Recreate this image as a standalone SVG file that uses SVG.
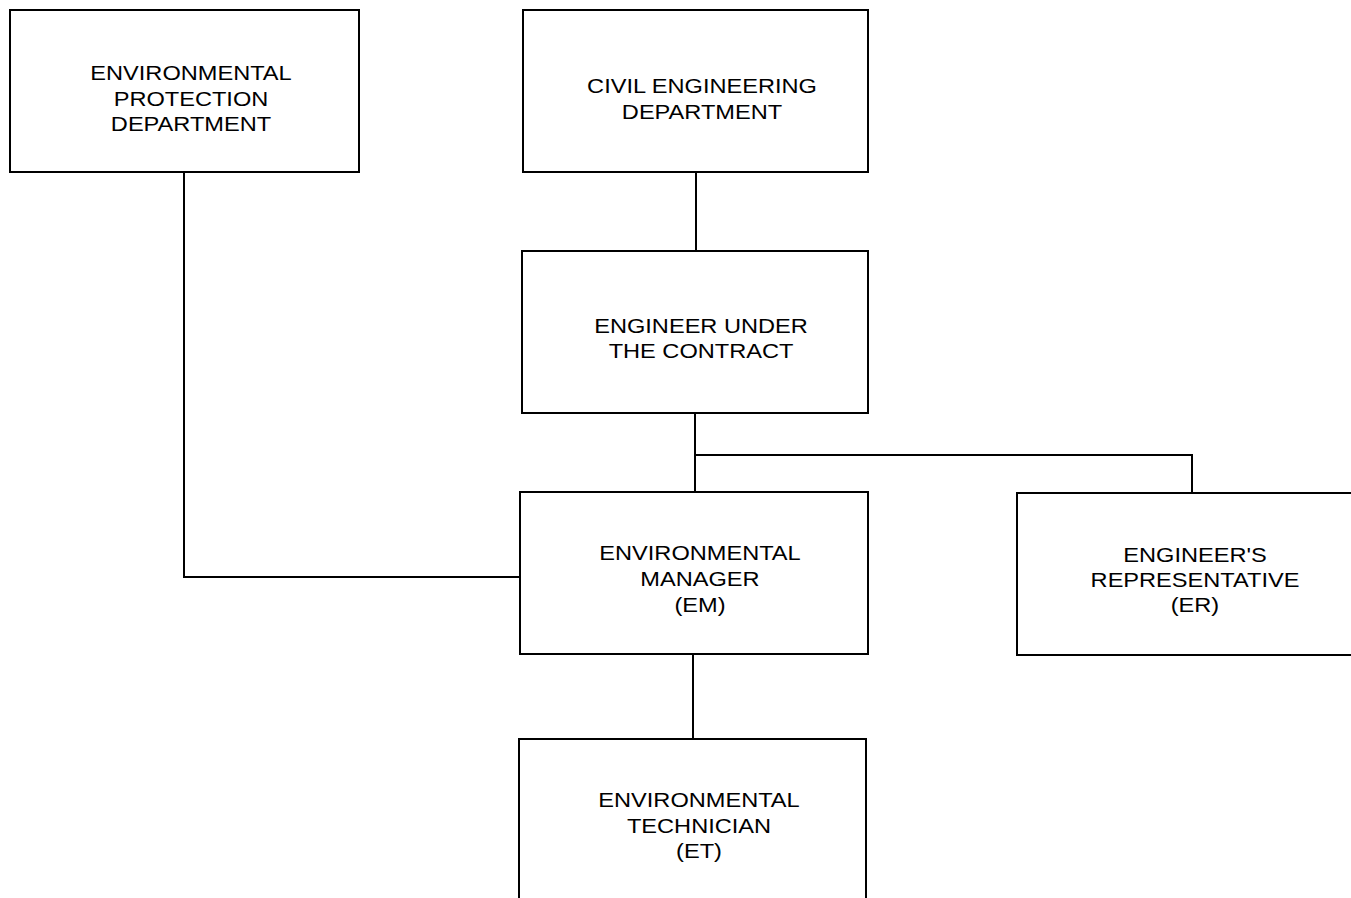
<svg xmlns="http://www.w3.org/2000/svg" width="1351" height="898" viewBox="0 0 1351 898">
<style>
.box{fill:#fff;stroke:#000;stroke-width:2}
.lbl{font-family:"Liberation Sans",Arial,sans-serif;font-size:20px;fill:#000;text-anchor:middle}
.conn{fill:none;stroke:#000;stroke-width:2}
</style>
<rect width="1351" height="898" fill="#fff"/>
<g id="connectors">
<polyline class="conn" points="184,172 184,577 520,577"/>
<line class="conn" x1="696" y1="172" x2="696" y2="251"/>
<line class="conn" x1="695" y1="413" x2="695" y2="492"/>
<polyline class="conn" points="695,455 1192,455 1192,493"/>
<line class="conn" x1="693" y1="654" x2="693" y2="739"/>
</g>
<g id="epd">
<rect class="box" x="10" y="10" width="349" height="162"/>
<g class="lbl" transform="translate(191,0) scale(1.18,1)">
<text x="0" y="80" class="lbl">ENVIRONMENTAL</text>
<text x="0" y="106" class="lbl">PROTECTION</text>
<text x="0" y="131" class="lbl">DEPARTMENT</text>
</g>
</g>
<g id="ced">
<rect class="box" x="523" y="10" width="345" height="162"/>
<g transform="translate(702,0) scale(1.18,1)">
<text x="0" y="93" class="lbl">CIVIL ENGINEERING</text>
<text x="0" y="119" class="lbl">DEPARTMENT</text>
</g>
</g>
<g id="euc">
<rect class="box" x="522" y="251" width="346" height="162"/>
<g transform="translate(701,0) scale(1.18,1)">
<text x="0" y="333" class="lbl">ENGINEER UNDER</text>
<text x="0" y="358" class="lbl">THE CONTRACT</text>
</g>
</g>
<g id="em">
<rect class="box" x="520" y="492" width="348" height="162"/>
<g transform="translate(700,0) scale(1.18,1)">
<text x="0" y="560" class="lbl">ENVIRONMENTAL</text>
<text x="0" y="586" class="lbl">MANAGER</text>
<text x="0" y="612" class="lbl">(EM)</text>
</g>
</g>
<g id="er">
<rect class="box" x="1017" y="493" width="345" height="162"/>
<g transform="translate(1195,0) scale(1.18,1)">
<text x="0" y="562" class="lbl">ENGINEER'S</text>
<text x="0" y="587" class="lbl">REPRESENTATIVE</text>
<text x="0" y="612" class="lbl">(ER)</text>
</g>
</g>
<g id="et">
<rect class="box" x="519" y="739" width="347" height="170"/>
<g transform="translate(699,0) scale(1.18,1)">
<text x="0" y="807" class="lbl">ENVIRONMENTAL</text>
<text x="0" y="833" class="lbl">TECHNICIAN</text>
<text x="0" y="858" class="lbl">(ET)</text>
</g>
</g>
</svg>
